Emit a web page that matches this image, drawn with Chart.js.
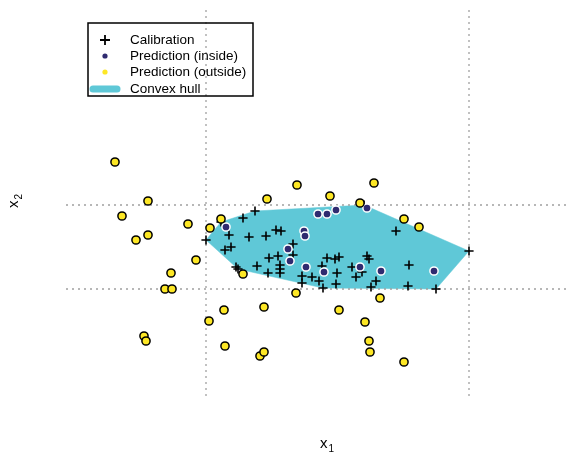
<!DOCTYPE html>
<html>
<head>
<meta charset="utf-8">
<script src="https://cdn.jsdelivr.net/npm/chart.js@4/dist/chart.umd.min.js"></script>
<style>
  html, body { margin: 0; padding: 0; background: #ffffff; }
  #wrap { width: 585px; height: 454px; }
</style>
</head>
<body>
<div id="wrap"><canvas id="c" width="585" height="454"></canvas></div>
<script>
// ---- data (x1, x2 in arbitrary units) ----
const calibrationX = [7.0, 7.75, 9.45, 8.85, 8.15, 9.15, 10.0, 10.5, 10.75, 7.95, 8.25, 11.35, 11.35, 10.6, 10.15, 9.55, 10.1, 10.7, 10.7, 10.7, 8.5, 8.6, 13.05, 13.45, 13.65, 12.8, 11.8, 12.3, 12.65, 11.8, 12.85, 13.5, 13.55, 14.3, 14.5, 14.8, 15.05, 15.15, 15.5, 15.25, 16.5, 20.15, 17.15, 17.1, 18.5, 14.9];
const calibrationY = [7.8, 8.7, 9.25, 8.9, 8.05, 7.95, 8.0, 8.3, 8.25, 7.3, 7.45, 7.6, 7.05, 7.0, 6.9, 6.5, 6.15, 6.55, 6.35, 6.15, 6.45, 6.35, 6.9, 6.85, 6.95, 6.5, 6.0, 5.95, 5.75, 5.65, 5.4, 5.6, 6.15, 6.45, 5.95, 6.2, 7.0, 6.85, 5.75, 5.45, 8.25, 7.25, 6.55, 5.5, 5.35, 9.55];

const insideX = [8.0, 11.1, 11.2, 11.9, 11.95, 12.6, 13.05, 13.5, 15.05, 12.0, 12.9, 14.7, 15.75, 18.4];
const insideY = [8.45, 7.35, 6.75, 8.25, 8.0, 9.1, 9.1, 9.3, 9.4, 6.45, 6.2, 6.45, 6.25, 6.25];

const outsideX = [2.45, 4.1, 2.8, 3.5, 4.1, 6.1, 6.5, 5.25, 4.95, 5.3, 3.9, 4.0, 7.15, 7.9, 7.95, 9.9, 9.7, 9.9, 8.85, 7.2, 7.75, 10.05, 11.55, 13.2, 15.4, 14.7, 16.9, 17.65, 15.7, 11.5, 13.65, 14.95, 15.15, 15.2, 16.9];
const outsideY = [11.7, 9.75, 9.0, 7.8, 8.05, 8.6, 6.8, 6.15, 5.35, 5.35, 3.0, 2.75, 3.75, 4.3, 2.5, 4.45, 2.0, 2.2, 6.1, 8.4, 8.85, 9.85, 10.55, 10.0, 10.65, 9.65, 8.85, 8.45, 4.9, 5.15, 4.3, 3.7, 2.75, 2.2, 1.7];

const seriesLabels = ['Calibration', 'Prediction (inside)', 'Prediction (outside)', 'Convex hull'];
const axisLimitsX = [0, 25.15];
const axisLimitsY = [0, 19.4];

// ---- helpers ----
const toPts = (xs, ys) => xs.map((x, i) => ({ x: x, y: ys[i] }));
function convexHull(pts) {
  const p = pts.slice().sort((a, b) => a.x - b.x || a.y - b.y);
  const cross = (o, a, b) => (a.x - o.x) * (b.y - o.y) - (a.y - o.y) * (b.x - o.x);
  const lower = [];
  for (const q of p) { while (lower.length >= 2 && cross(lower[lower.length - 2], lower[lower.length - 1], q) <= 0) lower.pop(); lower.push(q); }
  const upper = [];
  for (let i = p.length - 1; i >= 0; i--) { const q = p[i]; while (upper.length >= 2 && cross(upper[upper.length - 2], upper[upper.length - 1], q) <= 0) upper.pop(); upper.push(q); }
  upper.pop(); lower.pop();
  const h = lower.concat(upper);
  h.push(h[0]);
  return h;
}

const calPts = toPts(calibrationX, calibrationY);
const hull = convexHull(calPts);
const xLo = Math.min(...calibrationX), xHi = Math.max(...calibrationX);
const yLo = Math.min(...calibrationY), yHi = Math.max(...calibrationY);

const HULL = '#5fc8d7', YEL = '#fde725', PUR = '#2f2b70', GRID = '#a0a0a0';

const refLine = (pts) => ({
  type: 'line', data: pts, borderColor: GRID, borderWidth: 1.3, borderDash: [2, 4],
  pointRadius: 0, fill: false, order: 3, tension: 0
});

const FONT = '"Liberation Sans", Arial, sans-serif';

const decor = {
  id: 'decor',
  afterDraw(chart) {
    const ctx = chart.ctx;
    ctx.save();
    // legend box
    ctx.strokeStyle = '#000'; ctx.lineWidth = 1.5;
    ctx.strokeRect(88, 23, 165, 73);
    const sx = 105, rows = [40, 56, 72, 89];
    // calibration +
    ctx.lineWidth = 1.8; ctx.beginPath();
    ctx.moveTo(sx - 5, rows[0]); ctx.lineTo(sx + 5, rows[0]);
    ctx.moveTo(sx, rows[0] - 5); ctx.lineTo(sx, rows[0] + 5); ctx.stroke();
    // inside dot
    ctx.fillStyle = PUR; ctx.beginPath(); ctx.arc(sx, rows[1], 2.6, 0, Math.PI * 2); ctx.fill();
    // outside dot
    ctx.fillStyle = YEL; ctx.beginPath(); ctx.arc(sx, rows[2], 2.6, 0, Math.PI * 2); ctx.fill();
    // hull line
    ctx.strokeStyle = HULL; ctx.lineWidth = 7; ctx.lineCap = 'round';
    ctx.beginPath(); ctx.moveTo(93, rows[3]); ctx.lineTo(117, rows[3]); ctx.stroke();
    // texts
    ctx.fillStyle = '#000'; ctx.font = '13.5px ' + FONT; ctx.textBaseline = 'middle'; ctx.textAlign = 'left';
    seriesLabels.forEach((t, i) => ctx.fillText(t, 130, rows[i] + 0.5));
    // axis titles
    ctx.textBaseline = 'alphabetic';
    ctx.font = '15px ' + FONT;
    ctx.fillText('x', 320, 448);
    ctx.font = '10px ' + FONT;
    ctx.fillText('1', 328.5, 452);
    ctx.translate(18, 208);
    ctx.rotate(-Math.PI / 2);
    ctx.font = '15px ' + FONT;
    ctx.fillText('x', 0, 0);
    ctx.font = '10px ' + FONT;
    ctx.fillText('2', 8.5, 4);
    ctx.restore();
  }
};

new Chart(document.getElementById('c'), {
  type: 'scatter',
  data: {
    datasets: [
      { label: seriesLabels[2], data: toPts(outsideX, outsideY), pointStyle: 'circle', pointRadius: 4.1,
        backgroundColor: YEL, borderColor: '#000', borderWidth: 1.5, order: 0 },
      { label: seriesLabels[1], data: toPts(insideX, insideY), pointStyle: 'circle', pointRadius: 4.1,
        backgroundColor: PUR, borderColor: '#fff', borderWidth: 1.5, order: 1 },
      { label: seriesLabels[0], data: calPts, pointStyle: 'cross', pointRadius: 4.6,
        borderColor: '#000', backgroundColor: '#000', borderWidth: 1.6, order: 2 },
      refLine([{ x: xLo, y: axisLimitsY[0] }, { x: xLo, y: axisLimitsY[1] }]),
      refLine([{ x: xHi, y: axisLimitsY[0] }, { x: xHi, y: axisLimitsY[1] }]),
      refLine([{ x: axisLimitsX[0], y: yLo }, { x: axisLimitsX[1], y: yLo }]),
      refLine([{ x: axisLimitsX[0], y: yHi }, { x: axisLimitsX[1], y: yHi }]),
      { type: 'line', label: seriesLabels[3], data: hull, borderColor: HULL, borderWidth: 0.5,
        backgroundColor: HULL, fill: 'shape', pointRadius: 0, tension: 0, order: 4 }
    ]
  },
  options: {
    responsive: false,
    animation: false,
    devicePixelRatio: 1,
    layout: { padding: { left: 66, right: 16, top: 8, bottom: 58 } },
    plugins: { legend: { display: false }, tooltip: { enabled: false } },
    scales: {
      x: { type: 'linear', display: false, min: axisLimitsX[0], max: axisLimitsX[1] },
      y: { type: 'linear', display: false, min: axisLimitsY[0], max: axisLimitsY[1] }
    }
  },
  plugins: [decor]
});
</script>
</body>
</html>
